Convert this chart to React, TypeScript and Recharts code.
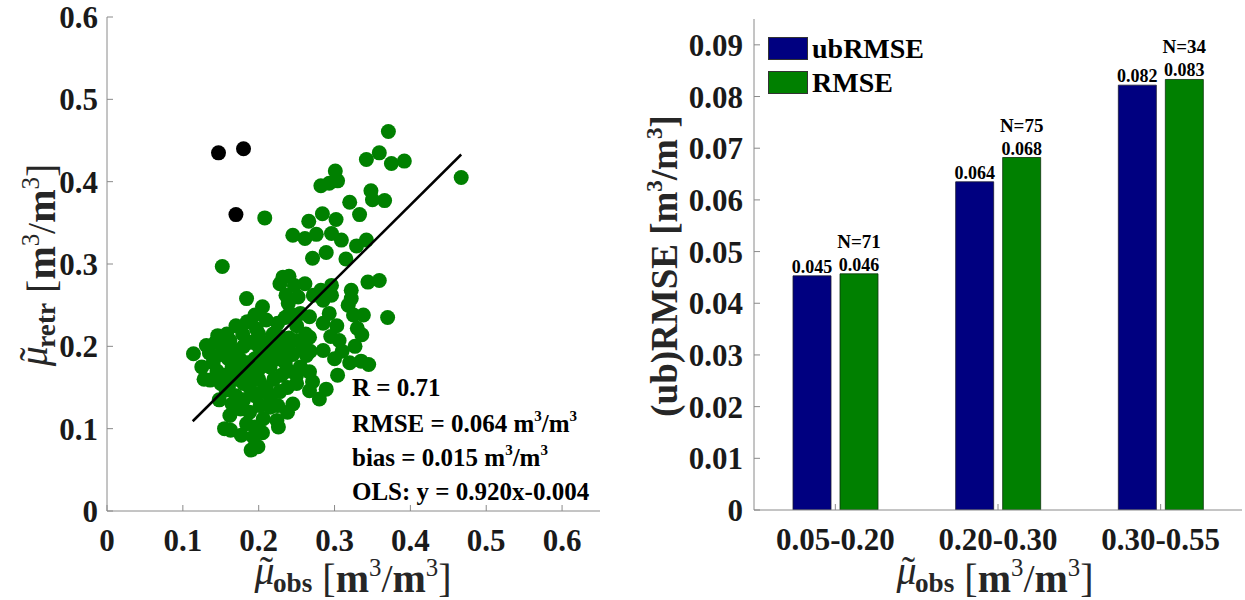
import React from 'react';
import { ScatterChart, Scatter, XAxis, YAxis, BarChart, Bar, LabelList, Legend } from 'recharts';

const FONT = '"Liberation Serif", "Times New Roman", Times, serif';
const AXIS = '#8a8a8a';
const TICK_TXT = '#1a1a1a';
const GREEN = '#008000';
const NAVY = '#000080';

// ---------- left panel data ----------
const scatterTicks = [0, 0.1, 0.2, 0.3, 0.4, 0.5, 0.6];
const greenPoints = [
  { x: 0.371, y: 0.461 }, { x: 0.467, y: 0.405 }, { x: 0.342, y: 0.427 }, { x: 0.359, y: 0.435 },
  { x: 0.375, y: 0.422 }, { x: 0.392, y: 0.425 }, { x: 0.301, y: 0.413 }, { x: 0.282, y: 0.395 },
  { x: 0.304, y: 0.401 }, { x: 0.348, y: 0.389 }, { x: 0.350, y: 0.378 }, { x: 0.366, y: 0.377 },
  { x: 0.320, y: 0.375 }, { x: 0.333, y: 0.360 }, { x: 0.284, y: 0.361 }, { x: 0.302, y: 0.354 },
  { x: 0.266, y: 0.352 }, { x: 0.245, y: 0.335 }, { x: 0.261, y: 0.331 }, { x: 0.276, y: 0.336 },
  { x: 0.296, y: 0.337 }, { x: 0.309, y: 0.329 }, { x: 0.329, y: 0.322 }, { x: 0.342, y: 0.329 },
  { x: 0.271, y: 0.307 }, { x: 0.289, y: 0.314 }, { x: 0.315, y: 0.306 }, { x: 0.208, y: 0.356 },
  { x: 0.152, y: 0.297 }, { x: 0.293, y: 0.398 }, { x: 0.232, y: 0.284 }, { x: 0.228, y: 0.276 },
  { x: 0.247, y: 0.274 }, { x: 0.261, y: 0.276 }, { x: 0.344, y: 0.278 }, { x: 0.359, y: 0.280 },
  { x: 0.184, y: 0.258 }, { x: 0.282, y: 0.268 }, { x: 0.296, y: 0.274 }, { x: 0.322, y: 0.268 },
  { x: 0.205, y: 0.248 }, { x: 0.239, y: 0.252 }, { x: 0.252, y: 0.260 }, { x: 0.241, y: 0.240 },
  { x: 0.285, y: 0.256 }, { x: 0.267, y: 0.236 }, { x: 0.285, y: 0.228 }, { x: 0.293, y: 0.240 },
  { x: 0.322, y: 0.258 }, { x: 0.318, y: 0.250 }, { x: 0.240, y: 0.285 }, { x: 0.236, y: 0.262 },
  { x: 0.272, y: 0.262 }, { x: 0.370, y: 0.235 }, { x: 0.330, y: 0.222 }, { x: 0.336, y: 0.214 },
  { x: 0.327, y: 0.200 }, { x: 0.320, y: 0.180 }, { x: 0.335, y: 0.182 }, { x: 0.304, y: 0.165 },
  { x: 0.306, y: 0.207 }, { x: 0.310, y: 0.194 }, { x: 0.295, y: 0.212 }, { x: 0.285, y: 0.195 },
  { x: 0.267, y: 0.169 }, { x: 0.271, y: 0.157 }, { x: 0.267, y: 0.146 }, { x: 0.280, y: 0.136 },
  { x: 0.289, y: 0.148 }, { x: 0.268, y: 0.194 }, { x: 0.250, y: 0.207 }, { x: 0.241, y: 0.193 },
  { x: 0.263, y: 0.189 }, { x: 0.267, y: 0.211 }, { x: 0.300, y: 0.185 }, { x: 0.345, y: 0.178 },
  { x: 0.325, y: 0.238 }, { x: 0.338, y: 0.238 }, { x: 0.303, y: 0.225 }, { x: 0.296, y: 0.262 },
  { x: 0.114, y: 0.191 }, { x: 0.131, y: 0.201 }, { x: 0.146, y: 0.213 }, { x: 0.162, y: 0.207 },
  { x: 0.179, y: 0.215 }, { x: 0.197, y: 0.221 }, { x: 0.219, y: 0.215 }, { x: 0.136, y: 0.159 },
  { x: 0.157, y: 0.147 }, { x: 0.162, y: 0.116 }, { x: 0.155, y: 0.100 }, { x: 0.177, y: 0.092 },
  { x: 0.184, y: 0.106 }, { x: 0.193, y: 0.090 }, { x: 0.199, y: 0.078 }, { x: 0.190, y: 0.074 },
  { x: 0.202, y: 0.128 }, { x: 0.215, y: 0.126 }, { x: 0.225, y: 0.128 }, { x: 0.206, y: 0.112 },
  { x: 0.224, y: 0.110 }, { x: 0.226, y: 0.102 }, { x: 0.205, y: 0.095 }, { x: 0.140, y: 0.180 },
  { x: 0.150, y: 0.190 }, { x: 0.160, y: 0.185 }, { x: 0.170, y: 0.195 }, { x: 0.180, y: 0.200 },
  { x: 0.190, y: 0.205 }, { x: 0.200, y: 0.200 }, { x: 0.210, y: 0.195 }, { x: 0.220, y: 0.200 },
  { x: 0.230, y: 0.205 }, { x: 0.240, y: 0.210 }, { x: 0.145, y: 0.170 }, { x: 0.155, y: 0.165 },
  { x: 0.165, y: 0.175 }, { x: 0.175, y: 0.170 }, { x: 0.185, y: 0.180 }, { x: 0.195, y: 0.185 },
  { x: 0.205, y: 0.180 }, { x: 0.215, y: 0.175 }, { x: 0.225, y: 0.185 }, { x: 0.235, y: 0.180 },
  { x: 0.245, y: 0.190 }, { x: 0.150, y: 0.155 }, { x: 0.160, y: 0.150 }, { x: 0.170, y: 0.160 },
  { x: 0.180, y: 0.155 }, { x: 0.190, y: 0.165 }, { x: 0.200, y: 0.160 }, { x: 0.210, y: 0.150 },
  { x: 0.220, y: 0.160 }, { x: 0.230, y: 0.165 }, { x: 0.240, y: 0.170 }, { x: 0.170, y: 0.140 },
  { x: 0.180, y: 0.135 }, { x: 0.195, y: 0.140 }, { x: 0.205, y: 0.145 }, { x: 0.215, y: 0.140 },
  { x: 0.228, y: 0.145 }, { x: 0.238, y: 0.150 }, { x: 0.250, y: 0.155 }, { x: 0.185, y: 0.230 },
  { x: 0.195, y: 0.238 }, { x: 0.210, y: 0.232 }, { x: 0.225, y: 0.228 }, { x: 0.235, y: 0.235 },
  { x: 0.250, y: 0.225 }, { x: 0.255, y: 0.240 }, { x: 0.170, y: 0.225 }, { x: 0.155, y: 0.200 },
  { x: 0.125, y: 0.175 }, { x: 0.135, y: 0.192 }, { x: 0.165, y: 0.130 }, { x: 0.188, y: 0.120 },
  { x: 0.176, y: 0.124 }, { x: 0.245, y: 0.130 }, { x: 0.238, y: 0.120 }, { x: 0.258, y: 0.200 },
  { x: 0.255, y: 0.175 }, { x: 0.250, y: 0.165 }, { x: 0.143, y: 0.205 }, { x: 0.158, y: 0.215 },
  { x: 0.128, y: 0.160 }, { x: 0.200, y: 0.172 }, { x: 0.218, y: 0.188 }, { x: 0.228, y: 0.212 },
  { x: 0.188, y: 0.150 }, { x: 0.175, y: 0.185 }, { x: 0.262, y: 0.215 }, { x: 0.235, y: 0.195 },
  { x: 0.200, y: 0.215 }, { x: 0.212, y: 0.205 }, { x: 0.148, y: 0.135 }, { x: 0.163, y: 0.098 },
  { x: 0.195, y: 0.102 },
];
const outlierPoints = [
  { x: 0.147, y: 0.435 }, { x: 0.180, y: 0.440 }, { x: 0.170, y: 0.360 },
];
const olsLine = [
  { x: 0.113, y: 0.109 }, { x: 0.467, y: 0.433 },
];
const statR = 'R = 0.71';
const statRmse = 'RMSE = 0.064';
const statBias = 'bias = 0.015';
const statOls = 'OLS: y = 0.920x-0.004';

// ---------- right panel data ----------
const categories = ['0.05-0.20', '0.20-0.30', '0.30-0.55'];
const ubRMSE = [0.0453, 0.0635, 0.0822];
const rmse = [0.0457, 0.0682, 0.0833];
const ubLabels = ['0.045', '0.064', '0.082'];
const rmseLabels = ['0.046', '0.068', '0.083'];
const counts = [71, 75, 34];
const barTicks = [0, 0.01, 0.02, 0.03, 0.04, 0.05, 0.06, 0.07, 0.08, 0.09];
const seriesKeys = ['ub', 'rmse'];

const barData = categories.map((c, i) => ({
  cat: c,
  ub: ubRMSE[i],
  rmse: rmse[i],
  ubLabel: ubLabels[i],
  rmseLabel: rmseLabels[i],
  nLabel: `N=${counts[i]}`,
}));

const tickStyle = { fontFamily: FONT, fontWeight: 'bold', fontSize: 31, fill: TICK_TXT };

const Dot = (color: string) => (p: any) => (
  <circle cx={p.cx} cy={p.cy} r={7.5} fill={color} stroke="none" />
);
const NoShape = () => <g />;

const Unit = ({ fs, bold }: { fs: number; bold?: boolean }) => {
  const sup = fs * 0.62;
  const up = fs * 0.4;
  const w = bold ? 'bold' : 'normal';
  return (
    <>
      <tspan fontWeight={w}>{' ['}</tspan>
      <tspan fontWeight="bold">m</tspan>
      <tspan fontWeight={w} fontSize={sup} dy={-up}>3</tspan>
      <tspan fontWeight={w} dy={up}>/</tspan>
      <tspan fontWeight="bold">m</tspan>
      <tspan fontWeight={w} fontSize={sup} dy={-up}>3</tspan>
      <tspan fontWeight={w} dy={up}>]</tspan>
    </>
  );
};

const MuLabel = ({ sub, fs }: { sub: string; fs: number }) => (
  <>
    <tspan fontStyle="italic" fontWeight="normal">{'\u03BC'}</tspan>
    <tspan fontWeight="normal" dx={-fs * 0.37}>{'\u02DC'}</tspan>
    <tspan fontWeight="bold" fontSize={fs * 0.68} dy={fs * 0.2}>{sub}</tspan>
    <tspan dy={-fs * 0.2}>{''}</tspan>
    <Unit fs={fs} />
  </>
);

const Stat = ({ y, text, unit }: { y: number; text: string; unit?: boolean }) => (
  <text x={352} y={y} fontFamily={FONT} fontWeight="bold" fontSize={25} fill="#000">
    <tspan>{text}</tspan>
    {unit && (
      <>
        <tspan>{' m'}</tspan>
        <tspan fontSize={15} dy={-11}>3</tspan>
        <tspan dy={11}>/m</tspan>
        <tspan fontSize={15} dy={-11}>3</tspan>
      </>
    )}
  </text>
);

const topLabel = (offset: number, size: number) => (p: any) => {
  const vb = p.viewBox || {};
  const x = Number(p.x ?? vb.x);
  const y = Number(p.y ?? vb.y);
  const w = Number(p.width ?? vb.width);
  return (
    <text x={x + w / 2} y={y - offset} textAnchor="middle" fontFamily={FONT} fontWeight="bold" fontSize={size} fill="#000">
      {p.value}
    </text>
  );
};

const LegendBox = (props: any) => {
  const payload = [...(props.payload || [])].sort(
    (a: any, b: any) => seriesKeys.indexOf(a.dataKey) - seriesKeys.indexOf(b.dataKey)
  );
  return (
    <div style={{ fontFamily: FONT, fontWeight: 'bold', fontSize: 28, color: '#000' }}>
      {payload.map((e: any) => (
        <div key={e.value} style={{ display: 'flex', alignItems: 'center', height: 33.5 }}>
          <span style={{ display: 'inline-block', width: 40, height: 23, background: e.color, border: '1px solid #333', marginRight: 4, boxSizing: 'border-box' }} />
          <span style={{ lineHeight: '33px' }}>{e.value}</span>
        </div>
      ))}
    </div>
  );
};

export default function App() {
  return (
    <div style={{ position: 'absolute', left: 0, top: 0, width: 1245, height: 600, background: '#fff' }}>
      <div style={{ position: 'absolute', left: 0, top: 0 }}>
        <ScatterChart width={620} height={600} margin={{ top: 17, right: 20, bottom: 0, left: 0 }}>
          <XAxis
            type="number" dataKey="x" domain={[0, 0.65]} ticks={scatterTicks} interval={0}
            height={89} allowDataOverflow
            tickFormatter={(v: number) => (v === 0 ? '0' : v.toFixed(1))}
            tick={tickStyle} tickSize={-6} tickMargin={24}
            axisLine={{ stroke: AXIS }} tickLine={{ stroke: AXIS }}
          />
          <XAxis
            xAxisId="top" orientation="top" type="number" dataKey="x" domain={[0, 0.65]} ticks={scatterTicks}
            interval={0} height={0} allowDataOverflow tick={false} tickSize={-6}
            axisLine={{ stroke: AXIS }} tickLine={{ stroke: AXIS }}
          />
          <YAxis
            type="number" dataKey="y" domain={[0, 0.6]} ticks={scatterTicks} interval={0}
            width={107} allowDataOverflow
            tickFormatter={(v: number) => (v === 0 ? '0' : v.toFixed(1))}
            tick={tickStyle} tickSize={-6} tickMargin={15}
            axisLine={{ stroke: AXIS }} tickLine={{ stroke: AXIS }}
          />
          <YAxis
            yAxisId="right" orientation="right" type="number" dataKey="y" domain={[0, 0.6]} ticks={scatterTicks}
            interval={0} width={0} allowDataOverflow tick={false} tickSize={-6}
            axisLine={{ stroke: AXIS }} tickLine={{ stroke: AXIS }}
          />
          <Scatter data={greenPoints} shape={Dot(GREEN)} isAnimationActive={false} />
          <Scatter data={outlierPoints} shape={Dot('#000')} isAnimationActive={false} />
          <Scatter
            data={olsLine} line={{ stroke: '#000', strokeWidth: 2.5 }} lineType="joint"
            shape={NoShape} isAnimationActive={false}
          />
          <Stat y={396} text={statR} />
          <Stat y={432} text={statRmse} unit />
          <Stat y={466} text={statBias} unit />
          <Stat y={500} text={statOls} />
          <text x={353} y={584} textAnchor="middle" fontFamily={FONT} fontSize={40} fill="#262626">
            <MuLabel sub="obs" fs={40} />
          </text>
          <text transform="translate(47,265) rotate(-90)" x={0} y={0} textAnchor="middle" fontFamily={FONT} fontSize={40} fill="#262626">
            <MuLabel sub="retr" fs={40} />
          </text>
        </ScatterChart>
      </div>
      <div style={{ position: 'absolute', left: 620, top: 0 }}>
        <BarChart
          width={625} height={600} data={barData}
          margin={{ top: 19, right: 3, bottom: 0, left: 0 }}
          barGap={9}
        >
          <XAxis
            dataKey="cat" height={90} interval={0}
            tick={tickStyle} tickSize={-6} tickMargin={24}
            axisLine={{ stroke: AXIS }} tickLine={{ stroke: AXIS }}
          />
          <XAxis
            xAxisId="top" orientation="top" dataKey="cat" height={0} interval={0}
            tick={false} tickSize={-6}
            axisLine={{ stroke: AXIS }} tickLine={{ stroke: AXIS }}
          />
          <YAxis
            type="number" domain={[0, 0.095]} ticks={barTicks} interval={0} width={134} allowDataOverflow
            tickFormatter={(v: number) => (v === 0 ? '0' : v.toFixed(2))}
            tick={tickStyle} tickSize={-6} tickMargin={17}
            axisLine={{ stroke: AXIS }} tickLine={{ stroke: AXIS }}
          />
          <YAxis
            yAxisId="right" orientation="right" type="number" domain={[0, 0.095]} ticks={barTicks}
            interval={0} width={0} allowDataOverflow tick={false} tickSize={-6}
            axisLine={{ stroke: AXIS }} tickLine={{ stroke: AXIS }}
          />
          <Legend
            layout="vertical" align="center" verticalAlign="middle"
            content={LegendBox}
            wrapperStyle={{ position: 'absolute', left: 148, top: 32, width: 'auto', height: 'auto' }}
          />
          <Bar dataKey="ub" name="ubRMSE" fill={NAVY} stroke="#1a1a33" strokeWidth={0.8} barSize={38} isAnimationActive={false}>
            <LabelList dataKey="ubLabel" content={topLabel(3, 18)} />
          </Bar>
          <Bar dataKey="rmse" name="RMSE" fill={GREEN} stroke="#0d330d" strokeWidth={0.8} barSize={38} isAnimationActive={false}>
            <LabelList dataKey="rmseLabel" content={topLabel(3, 18)} />
            <LabelList dataKey="nLabel" content={topLabel(26, 19)} />
          </Bar>
          <text x={375} y={584} textAnchor="middle" fontFamily={FONT} fontSize={40} fill="#262626">
            <MuLabel sub="obs" fs={40} />
          </text>
          <text transform="translate(57,266) rotate(-90)" x={0} y={0} textAnchor="middle" fontFamily={FONT} fontWeight="bold" fontSize={37} fill="#262626">
            <tspan>(ub)RMSE</tspan>
            <Unit fs={37} bold />
          </text>
        </BarChart>
      </div>
    </div>
  );
}
